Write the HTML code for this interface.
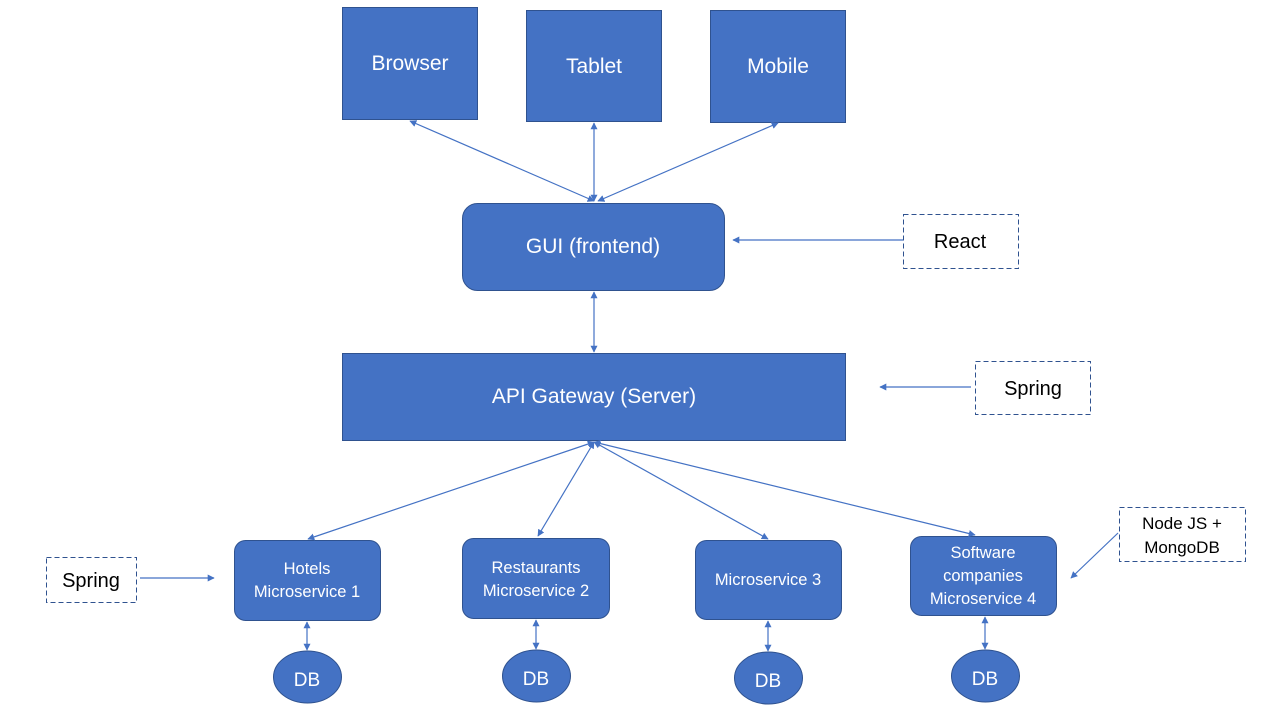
<!DOCTYPE html>
<html><head><meta charset="utf-8"><style>
html,body{margin:0;padding:0;background:#fff;width:1280px;height:720px;overflow:hidden}
text{font-family:"Liberation Sans",sans-serif}
</style></head><body>
<svg width="1280" height="720" xmlns="http://www.w3.org/2000/svg">
<defs>
<marker id="a" viewBox="0 0 10 10" refX="9" refY="5" markerWidth="7" markerHeight="7" orient="auto-start-reverse" markerUnits="userSpaceOnUse"><path d="M0,0 L10,5 L0,10 z" fill="#4472C4"/></marker>
</defs>
<g fill="#4472C4" stroke="#2F528F" stroke-width="1">
<rect x="342.5" y="7.5" width="135" height="112"/>
<rect x="526.5" y="10.5" width="135" height="111"/>
<rect x="710.5" y="10.5" width="135" height="112"/>
<rect x="462.5" y="203.5" width="262" height="87" rx="15"/>
<rect x="342.5" y="353.5" width="503" height="87"/>
<rect x="234.5" y="540.5" width="146" height="80" rx="11"/>
<rect x="462.5" y="538.5" width="147" height="80" rx="11"/>
<rect x="695.5" y="540.5" width="146" height="79" rx="11"/>
<rect x="910.5" y="536.5" width="146" height="79" rx="11"/>
<ellipse cx="307.5" cy="677" rx="34" ry="26"/>
<ellipse cx="536.5" cy="676" rx="34" ry="26"/>
<ellipse cx="768.5" cy="678" rx="34" ry="26"/>
<ellipse cx="985.5" cy="676" rx="34" ry="26"/>
</g>
<g fill="#fff" stroke="#2F528F" stroke-dasharray="5,3">
<rect x="903.5" y="214.5" width="115" height="54"/>
<rect x="975.5" y="361.5" width="115" height="53"/>
<rect x="46.5" y="557.5" width="90" height="45"/>
<rect x="1119.5" y="507.5" width="126" height="54"/>
</g>
<g stroke="#4472C4" stroke-width="1.2" fill="none" marker-end="url(#a)" marker-start="url(#a)">
<line x1="410" y1="121" x2="594" y2="201"/>
<line x1="594" y1="123" x2="594" y2="201"/>
<line x1="778" y1="123" x2="598" y2="201"/>
<line x1="594" y1="292" x2="594" y2="352"/>
<line x1="594" y1="442" x2="308" y2="539"/>
<line x1="594" y1="442" x2="538" y2="536"/>
<line x1="594" y1="442" x2="768" y2="539"/>
<line x1="594" y1="442" x2="975" y2="535"/>
<line x1="307" y1="622" x2="307" y2="650"/>
<line x1="536" y1="620" x2="536" y2="649"/>
<line x1="768" y1="621" x2="768" y2="651"/>
<line x1="985" y1="617" x2="985" y2="649"/>
</g>
<g stroke="#4472C4" stroke-width="1.2" fill="none" marker-end="url(#a)">
<line x1="903" y1="240" x2="733" y2="240"/>
<line x1="971" y1="387" x2="880" y2="387"/>
<line x1="140" y1="578" x2="214" y2="578"/>
<line x1="1118" y1="533" x2="1071" y2="578"/>
</g>
<g fill="#fff" text-anchor="middle" font-size="21">
<text x="410" y="70">Browser</text>
<text x="594" y="73">Tablet</text>
<text x="778" y="73">Mobile</text>
<text x="593" y="253">GUI (frontend)</text>
<text x="594" y="403">API Gateway (Server)</text>
<text x="307" y="686" font-size="19">DB</text>
<text x="536" y="685" font-size="19">DB</text>
<text x="768" y="687" font-size="19">DB</text>
<text x="985" y="685" font-size="19">DB</text>
</g>
<g fill="#fff" text-anchor="middle" font-size="16.5">
<text x="307" y="574">Hotels</text>
<text x="307" y="597">Microservice 1</text>
<text x="536" y="573">Restaurants</text>
<text x="536" y="596">Microservice 2</text>
<text x="768" y="585">Microservice 3</text>
<text x="983" y="558">Software</text>
<text x="983" y="581">companies</text>
<text x="983" y="604">Microservice 4</text>
</g>
<g fill="#000" text-anchor="middle" font-size="20">
<text x="960" y="248">React</text>
<text x="1033" y="395">Spring</text>
<text x="91" y="587">Spring</text>
<text x="1182" y="529" font-size="17">Node JS +</text>
<text x="1182" y="553" font-size="17">MongoDB</text>
</g>
</svg>
</body></html>
